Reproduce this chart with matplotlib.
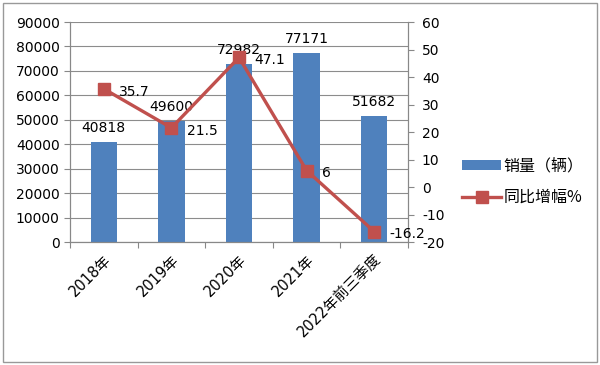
import matplotlib
matplotlib.use("Agg")
from matplotlib import pyplot as plt
from matplotlib.patches import Rectangle

plt.rcParams['font.family'] = ['DejaVu Sans', 'Noto Sans CJK SC']
plt.rcParams['axes.unicode_minus'] = False

categories = ["2018年", "2019年", "2020年", "2021年", "2022年前三季度"]
sales = [40818, 49600, 72982, 77171, 51682]
growth = [35.7, 21.5, 47.1, 6, -16.2]

bar_color = "#4F81BD"
line_color = "#C0504D"

fig = plt.figure(figsize=(6, 3.65), dpi=100)
ax = fig.add_axes([70 / 600, 1 - 242 / 365, 338 / 600, 220 / 365])
ax2 = ax.twinx()

x = list(range(len(categories)))
ax.bar(x, sales, width=0.39, color=bar_color, zorder=2, label="销量（辆）")
for xi, v in zip(x, sales):
    ax.annotate(str(v), (xi, v), xytext=(0, 5), textcoords="offset points",
                ha="center", va="bottom", fontsize=10)

ax2.plot(x, growth, color=line_color, lw=2.4, marker="s", markersize=8,
         zorder=3, label="同比增幅%")
for xi, v in zip(x, growth):
    ax2.annotate(f"{v:g}", (xi, v), xytext=(11, -2), textcoords="offset points",
                 ha="left", va="center", fontsize=10)

ax.set_xlim(-0.5, len(categories) - 0.5)
ax.set_ylim(0, 90000)
ax.set_yticks(range(0, 90001, 10000))
ax2.set_ylim(-20, 60)
ax2.set_yticks(range(-20, 61, 10))
ax.yaxis.grid(True, color="#8c8c8c", lw=0.8, zorder=0)
ax.set_axisbelow(True)

ax.set_xticks([i - 0.5 for i in range(len(categories) + 1)])
ax.set_xticklabels([])
ax.set_xticks(x, minor=True)
ax.set_xticklabels(categories, minor=True, rotation=45, ha="right",
                   rotation_mode="anchor", fontsize=10.5,
                   family=['DejaVu Sans', 'Noto Sans CJK SC'])
ax.tick_params(axis="x", which="minor", length=0, pad=7)
ax.tick_params(axis="x", which="major", length=4, direction="out", color="#888888")
ax.tick_params(axis="y", labelsize=10, length=4, color="#888888")
ax2.tick_params(axis="y", labelsize=10, length=4, color="#888888", pad=6)

for a in (ax, ax2):
    a.spines["top"].set_visible(False)
    for s in ("left", "right", "bottom"):
        a.spines[s].set_color("#888888")

h1, l1 = ax.get_legend_handles_labels()
h2, l2 = ax2.get_legend_handles_labels()
fig.legend(h1 + h2, l1 + l2, loc="center left", bbox_to_anchor=(448 / 600, 1 - 182 / 365),
           frameon=False, handlelength=2.4, handleheight=0.6, handletextpad=0.2,
           labelspacing=0.9, prop={'family': ['Noto Sans CJK SC', 'DejaVu Sans'], 'size': 11.5})

fig.patches.append(Rectangle((3 / 600, 3 / 365), 594 / 600, 359 / 365,
                             transform=fig.transFigure, fill=False,
                             edgecolor="#999999", lw=1))

fig.savefig("out.png", dpi=100)
